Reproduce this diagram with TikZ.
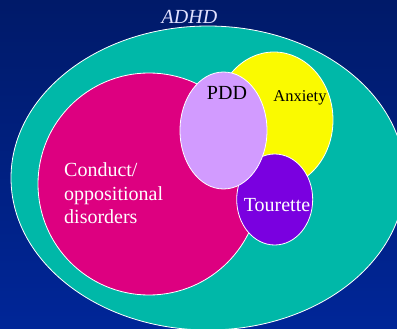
\documentclass[tikz,border=0pt]{standalone}
\usepackage{fontspec}
\setmainfont{Liberation Serif}
\usetikzlibrary{shapes.geometric}

\definecolor{navytop}{RGB}{0,26,105}
\definecolor{navybot}{RGB}{0,38,152}
\definecolor{adhdteal}{RGB}{0,184,168}
\definecolor{condmag}{RGB}{221,0,128}
\definecolor{anxyel}{RGB}{250,250,0}
\definecolor{pddlav}{RGB}{210,155,255}
\definecolor{tourpur}{RGB}{122,0,224}
\definecolor{adhdtext}{RGB}{225,225,255}

\tikzset{
  blob/.style={draw=white, line width=.8pt},
  lbl/.style={inner sep=0pt, anchor=base, font=\fontsize{20}{23.3}\selectfont}
}

\begin{document}
\begin{tikzpicture}[x=1pt,y=-1pt]
\shade[top color=navytop, bottom color=navybot] (0,0) rectangle (397,329);
\useasboundingbox (0,0) rectangle (397,329);
\clip (0,0) rectangle (397,329);
\draw[blob, fill=adhdteal] (208,178) ellipse [x radius=197, y radius=152];
\draw[blob, fill=condmag] (149,184) ellipse [x radius=111, y radius=111];
\draw[blob, fill=anxyel] (274,120) ellipse [x radius=59, y radius=68];
\draw[blob, fill=tourpur] (274.7,199.5) ellipse [x radius=38, y radius=45.5];
\draw[blob, fill=pddlav] (223.5,130.5) ellipse [x radius=43.5, y radius=58.5];
\node[lbl, text=adhdtext, font=\fontsize{20}{24}\selectfont\itshape] (adhd) at (189.5,24) {ADHD};
\node[lbl] (pdd) at (227,100) {PDD};
\node[lbl, font=\fontsize{16.5}{20}\selectfont] (anxiety) at (300,101.7) {Anxiety};
\node[lbl, text=white] (tourette) at (277,211.7) {Tourette};
% last line sits on the base anchor
\node[lbl, text=white, anchor=base west, align=left] (conduct) at (64,223.3) {Conduct/\\oppositional\\disorders};
\end{tikzpicture}
\end{document}
